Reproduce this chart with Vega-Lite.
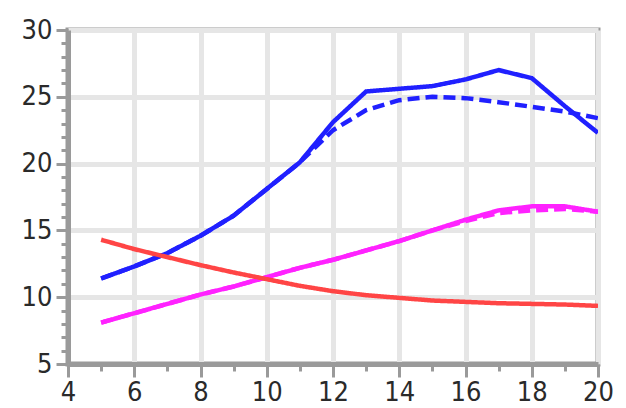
{
  "$schema": "https://vega.github.io/schema/vega-lite/v6.json",
  "width": 530,
  "height": 334,
  "autosize": "none",
  "padding": {"left": 68, "top": 30, "right": 28, "bottom": 44},
  "background": "white",
  "config": {
    "view": {"stroke": "#9a9a9a", "strokeWidth": 5},
    "axis": {
      "domainColor": "#9a9a9a",
      "domainWidth": 5,
      "gridColor": "#e6e6e6",
      "gridWidth": 5,
      "tickColor": "#9a9a9a",
      "tickWidth": 3,
      "labelFont": "DejaVu Sans Condensed, Liberation Sans, sans-serif",
      "labelFontSize": 27,
      "labelColor": "#2a2a2a",
      "title": null
    }
  },
  "data": {
    "values": [
      {"line": "b1", "series": "blue", "type": "solid", "x": 5, "y": 11.4},
      {"line": "b1", "series": "blue", "type": "solid", "x": 6, "y": 12.3},
      {"line": "b1", "series": "blue", "type": "solid", "x": 7, "y": 13.3},
      {"line": "b1", "series": "blue", "type": "solid", "x": 8, "y": 14.6},
      {"line": "b1", "series": "blue", "type": "solid", "x": 9, "y": 16.1},
      {"line": "b1", "series": "blue", "type": "solid", "x": 10, "y": 18.1},
      {"line": "b1", "series": "blue", "type": "solid", "x": 11, "y": 20.1},
      {"line": "b1", "series": "blue", "type": "solid", "x": 12, "y": 23.1},
      {"line": "b1", "series": "blue", "type": "solid", "x": 13, "y": 25.4},
      {"line": "b1", "series": "blue", "type": "solid", "x": 14, "y": 25.6},
      {"line": "b1", "series": "blue", "type": "solid", "x": 15, "y": 25.8},
      {"line": "b1", "series": "blue", "type": "solid", "x": 16, "y": 26.3},
      {"line": "b1", "series": "blue", "type": "solid", "x": 17, "y": 27.0},
      {"line": "b1", "series": "blue", "type": "solid", "x": 18, "y": 26.4},
      {"line": "b1", "series": "blue", "type": "solid", "x": 19, "y": 24.3},
      {"line": "b1", "series": "blue", "type": "solid", "x": 20, "y": 22.3},
      {"line": "b2", "series": "blue", "type": "dashed", "x": 5, "y": 11.4},
      {"line": "b2", "series": "blue", "type": "dashed", "x": 6, "y": 12.3},
      {"line": "b2", "series": "blue", "type": "dashed", "x": 7, "y": 13.3},
      {"line": "b2", "series": "blue", "type": "dashed", "x": 8, "y": 14.6},
      {"line": "b2", "series": "blue", "type": "dashed", "x": 9, "y": 16.1},
      {"line": "b2", "series": "blue", "type": "dashed", "x": 10, "y": 18.1},
      {"line": "b2", "series": "blue", "type": "dashed", "x": 11, "y": 20.1},
      {"line": "b2", "series": "blue", "type": "dashed", "x": 12, "y": 22.5},
      {"line": "b2", "series": "blue", "type": "dashed", "x": 13, "y": 24.0},
      {"line": "b2", "series": "blue", "type": "dashed", "x": 14, "y": 24.75},
      {"line": "b2", "series": "blue", "type": "dashed", "x": 15, "y": 25.0},
      {"line": "b2", "series": "blue", "type": "dashed", "x": 16, "y": 24.9},
      {"line": "b2", "series": "blue", "type": "dashed", "x": 17, "y": 24.6},
      {"line": "b2", "series": "blue", "type": "dashed", "x": 18, "y": 24.25},
      {"line": "b2", "series": "blue", "type": "dashed", "x": 19, "y": 23.9},
      {"line": "b2", "series": "blue", "type": "dashed", "x": 20, "y": 23.4},
      {"line": "m1", "series": "magenta", "type": "solid", "x": 5, "y": 8.1},
      {"line": "m1", "series": "magenta", "type": "solid", "x": 6, "y": 8.8},
      {"line": "m1", "series": "magenta", "type": "solid", "x": 7, "y": 9.5},
      {"line": "m1", "series": "magenta", "type": "solid", "x": 8, "y": 10.2},
      {"line": "m1", "series": "magenta", "type": "solid", "x": 9, "y": 10.8},
      {"line": "m1", "series": "magenta", "type": "solid", "x": 10, "y": 11.5},
      {"line": "m1", "series": "magenta", "type": "solid", "x": 11, "y": 12.2},
      {"line": "m1", "series": "magenta", "type": "solid", "x": 12, "y": 12.8},
      {"line": "m1", "series": "magenta", "type": "solid", "x": 13, "y": 13.5},
      {"line": "m1", "series": "magenta", "type": "solid", "x": 14, "y": 14.2},
      {"line": "m1", "series": "magenta", "type": "solid", "x": 15, "y": 15.0},
      {"line": "m1", "series": "magenta", "type": "solid", "x": 16, "y": 15.8},
      {"line": "m1", "series": "magenta", "type": "solid", "x": 17, "y": 16.5},
      {"line": "m1", "series": "magenta", "type": "solid", "x": 18, "y": 16.8},
      {"line": "m1", "series": "magenta", "type": "solid", "x": 19, "y": 16.8},
      {"line": "m1", "series": "magenta", "type": "solid", "x": 20, "y": 16.4},
      {"line": "m2", "series": "magenta", "type": "dashed", "x": 5, "y": 8.1},
      {"line": "m2", "series": "magenta", "type": "dashed", "x": 6, "y": 8.8},
      {"line": "m2", "series": "magenta", "type": "dashed", "x": 7, "y": 9.5},
      {"line": "m2", "series": "magenta", "type": "dashed", "x": 8, "y": 10.2},
      {"line": "m2", "series": "magenta", "type": "dashed", "x": 9, "y": 10.8},
      {"line": "m2", "series": "magenta", "type": "dashed", "x": 10, "y": 11.5},
      {"line": "m2", "series": "magenta", "type": "dashed", "x": 11, "y": 12.2},
      {"line": "m2", "series": "magenta", "type": "dashed", "x": 12, "y": 12.8},
      {"line": "m2", "series": "magenta", "type": "dashed", "x": 13, "y": 13.5},
      {"line": "m2", "series": "magenta", "type": "dashed", "x": 14, "y": 14.2},
      {"line": "m2", "series": "magenta", "type": "dashed", "x": 15, "y": 15.0},
      {"line": "m2", "series": "magenta", "type": "dashed", "x": 16, "y": 15.7},
      {"line": "m2", "series": "magenta", "type": "dashed", "x": 17, "y": 16.3},
      {"line": "m2", "series": "magenta", "type": "dashed", "x": 18, "y": 16.5},
      {"line": "m2", "series": "magenta", "type": "dashed", "x": 19, "y": 16.6},
      {"line": "m2", "series": "magenta", "type": "dashed", "x": 20, "y": 16.4},
      {"line": "r1", "series": "red", "type": "solid", "x": 5, "y": 14.3},
      {"line": "r1", "series": "red", "type": "solid", "x": 6, "y": 13.6},
      {"line": "r1", "series": "red", "type": "solid", "x": 7, "y": 13.0},
      {"line": "r1", "series": "red", "type": "solid", "x": 8, "y": 12.4},
      {"line": "r1", "series": "red", "type": "solid", "x": 9, "y": 11.85},
      {"line": "r1", "series": "red", "type": "solid", "x": 10, "y": 11.35},
      {"line": "r1", "series": "red", "type": "solid", "x": 11, "y": 10.85},
      {"line": "r1", "series": "red", "type": "solid", "x": 12, "y": 10.45},
      {"line": "r1", "series": "red", "type": "solid", "x": 13, "y": 10.15},
      {"line": "r1", "series": "red", "type": "solid", "x": 14, "y": 9.95},
      {"line": "r1", "series": "red", "type": "solid", "x": 15, "y": 9.75},
      {"line": "r1", "series": "red", "type": "solid", "x": 16, "y": 9.65},
      {"line": "r1", "series": "red", "type": "solid", "x": 17, "y": 9.55},
      {"line": "r1", "series": "red", "type": "solid", "x": 18, "y": 9.5},
      {"line": "r1", "series": "red", "type": "solid", "x": 19, "y": 9.45},
      {"line": "r1", "series": "red", "type": "solid", "x": 20, "y": 9.35}
    ]
  },
  "mark": {"type": "line", "strokeWidth": 4.5, "clip": true},
  "encoding": {
    "x": {
      "field": "x",
      "type": "quantitative",
      "scale": {"domain": [4, 20], "nice": false, "zero": false},
      "axis": {
        "values": [4, 5, 6, 7, 8, 9, 10, 11, 12, 13, 14, 15, 16, 17, 18, 19, 20],
        "labelExpr": "datum.value % 2 === 0 ? datum.label : ''",
        "tickSize": {"condition": {"test": "datum.value % 2 === 0", "value": 13}, "value": 7},
        "gridOpacity": {"condition": {"test": "datum.value % 2 === 0", "value": 1}, "value": 0},
        "labelPadding": 2,
        "labelFlush": false,
        "labelOverlap": false
      }
    },
    "y": {
      "field": "y",
      "type": "quantitative",
      "scale": {"domain": [5, 30], "nice": false, "zero": false},
      "axis": {
        "values": [5, 6, 7, 8, 9, 10, 11, 12, 13, 14, 15, 16, 17, 18, 19, 20, 21, 22, 23, 24, 25, 26, 27, 28, 29, 30],
        "labelExpr": "datum.value % 5 === 0 ? datum.label : ''",
        "tickSize": {"condition": {"test": "datum.value % 5 === 0", "value": 12}, "value": 7},
        "gridOpacity": {"condition": {"test": "datum.value % 5 === 0", "value": 1}, "value": 0},
        "labelPadding": 4,
        "labelFlush": false,
        "labelOverlap": false
      }
    },
    "color": {
      "field": "series",
      "type": "nominal",
      "scale": {"domain": ["blue", "magenta", "red"], "range": ["#2020ff", "#ff22ff", "#ff4545"]},
      "legend": null
    },
    "strokeDash": {
      "field": "type",
      "type": "nominal",
      "scale": {"domain": ["solid", "dashed"], "range": [[1, 0], [12, 6]]},
      "legend": null
    },
    "detail": {"field": "line", "type": "nominal"}
  }
}
